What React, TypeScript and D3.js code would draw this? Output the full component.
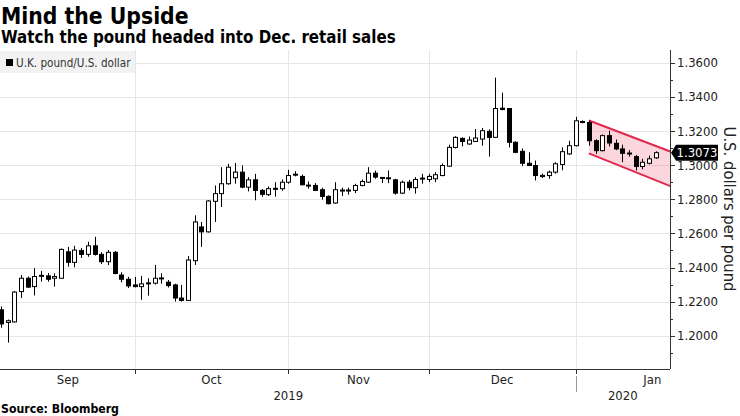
import React from 'react';
import * as d3 from 'd3';

// daily GBP/USD candles (Sep 2019 - mid Jan 2020)
const opens = [
  1.2152, 1.2078, 1.2081, 1.2259, 1.2337, 1.2288, 1.2350, 1.2351, 1.2337, 1.2337,
  1.2492, 1.2430, 1.2500, 1.2477, 1.2527, 1.2477, 1.2434, 1.2489, 1.2356, 1.2331,
  1.2298, 1.2288, 1.2306, 1.2308, 1.2335, 1.2314, 1.2298, 1.2221, 1.2207, 1.2440,
  1.2638, 1.2609, 1.2788, 1.2833, 1.2891, 1.2926, 1.2959, 1.2871, 1.2914, 1.2852,
  1.2827, 1.2860, 1.2862, 1.2900, 1.2943, 1.2934, 1.2879, 1.2881, 1.2856, 1.2817,
  1.2778, 1.2850, 1.2850, 1.2852, 1.2881, 1.2900, 1.2953, 1.2928, 1.2922, 1.2914,
  1.2836, 1.2900, 1.2868, 1.2920, 1.2916, 1.2920, 1.2939, 1.2994, 1.3104, 1.3157,
  1.3124, 1.3139, 1.3153, 1.3198, 1.3163, 1.3334, 1.3332, 1.3134, 1.3081, 1.3011,
  1.2998, 1.2933, 1.2939, 1.2959, 1.3004, 1.3066, 1.3114, 1.3252, 1.3250, 1.3143,
  1.3085, 1.3173, 1.3128, 1.3095, 1.3067, 1.3050, 1.2992, 1.3011, 1.3043,
];
const highs = [
  1.2172, 1.2095, 1.2262, 1.2356, 1.2347, 1.2396, 1.2380, 1.2368, 1.2366, 1.2512,
  1.2521, 1.2527, 1.2514, 1.2551, 1.2580, 1.2490, 1.2502, 1.2497, 1.2372, 1.2345,
  1.2345, 1.2351, 1.2337, 1.2415, 1.2366, 1.2327, 1.2305, 1.2298, 1.2467, 1.2706,
  1.2667, 1.2795, 1.2881, 1.2988, 1.3008, 1.3013, 1.2998, 1.2930, 1.2949, 1.2860,
  1.2875, 1.2900, 1.2916, 1.2973, 1.2965, 1.2945, 1.2904, 1.2895, 1.2868, 1.2823,
  1.2900, 1.2868, 1.2868, 1.2891, 1.2916, 1.2988, 1.2968, 1.2928, 1.2969, 1.2920,
  1.2910, 1.2914, 1.2930, 1.2949, 1.2949, 1.2959, 1.3010, 1.3120, 1.3170, 1.3163,
  1.3168, 1.3212, 1.3218, 1.3210, 1.3513, 1.3425, 1.3334, 1.3140, 1.3098, 1.3075,
  1.3027, 1.2950, 1.2968, 1.3017, 1.3104, 1.3143, 1.3283, 1.3262, 1.3262, 1.3152,
  1.3180, 1.3202, 1.3150, 1.3120, 1.3088, 1.3060, 1.3037, 1.3056, 1.3081,
];
const lows = [
  1.2047, 1.1960, 1.2078, 1.2221, 1.2280, 1.2236, 1.2317, 1.2317, 1.2288, 1.2335,
  1.2405, 1.2401, 1.2456, 1.2463, 1.2470, 1.2420, 1.2414, 1.2360, 1.2313, 1.2280,
  1.2283, 1.2211, 1.2235, 1.2300, 1.2305, 1.2283, 1.2200, 1.2200, 1.2205, 1.2415,
  1.2521, 1.2605, 1.2667, 1.2755, 1.2885, 1.2891, 1.2865, 1.2846, 1.2794, 1.2815,
  1.2820, 1.2815, 1.2850, 1.2891, 1.2934, 1.2881, 1.2862, 1.2848, 1.2798, 1.2770,
  1.2774, 1.2819, 1.2827, 1.2836, 1.2875, 1.2895, 1.2920, 1.2895, 1.2895, 1.2827,
  1.2830, 1.2852, 1.2833, 1.2891, 1.2900, 1.2900, 1.2935, 1.2990, 1.3098, 1.3110,
  1.3120, 1.3135, 1.3114, 1.3050, 1.3160, 1.3322, 1.3104, 1.3070, 1.2994, 1.2994,
  1.2910, 1.2925, 1.2920, 1.2950, 1.2970, 1.3060, 1.3110, 1.3245, 1.3114, 1.3066,
  1.3080, 1.3110, 1.3088, 1.3017, 1.3050, 1.2969, 1.2975, 1.3004, 1.3037,
];
const closes = [
  1.2069, 1.2088, 1.2256, 1.2337, 1.2285, 1.2347, 1.2354, 1.2331, 1.2347, 1.2506,
  1.2430, 1.2502, 1.2477, 1.2527, 1.2477, 1.2434, 1.2489, 1.2365, 1.2331, 1.2292,
  1.2288, 1.2304, 1.2310, 1.2337, 1.2339, 1.2294, 1.2221, 1.2207, 1.2444, 1.2667,
  1.2609, 1.2790, 1.2833, 1.2891, 1.2988, 1.2959, 1.2871, 1.2914, 1.2852, 1.2829,
  1.2862, 1.2864, 1.2900, 1.2939, 1.2947, 1.2885, 1.2883, 1.2852, 1.2817, 1.2774,
  1.2856, 1.2854, 1.2854, 1.2881, 1.2904, 1.2953, 1.2930, 1.2924, 1.2926, 1.2836,
  1.2900, 1.2868, 1.2916, 1.2924, 1.2934, 1.2944, 1.2998, 1.3104, 1.3163, 1.3139,
  1.3147, 1.3159, 1.3202, 1.3163, 1.3332, 1.3326, 1.3134, 1.3075, 1.3011, 1.2998,
  1.2939, 1.2940, 1.2959, 1.3008, 1.3079, 1.3114, 1.3260, 1.3256, 1.3143, 1.3085,
  1.3173, 1.3130, 1.3095, 1.3069, 1.3071, 1.2992, 1.3017, 1.3037, 1.3073,
];

const months = ['Sep', 'Oct', 'Nov', 'Dec', 'Jan'];
const monthStart = [0, 20, 43, 64, 86];
const monthEnd = [20, 43, 64, 86, 109];
const years = ['2019', '2020'];
const yearStart = [0, 86];
const yearEnd = [86, 109];

const yTicks = [1.2, 1.22, 1.24, 1.26, 1.28, 1.3, 1.32, 1.34, 1.36];
const yMinor = [1.19, 1.21, 1.23, 1.25, 1.27, 1.29, 1.31, 1.33, 1.35];

// downward channel drawn over the last weeks
const channelIdx = [88, 100.2];
const channelUpper = [1.3262, 1.308];
const channelLower = [1.3069, 1.2877];

const lastPrice = 1.3073;

const W = 740;
const H = 416;
const left = 0;
const right = 670;
const top = 50;
const bottom = 369;
const font = '"DejaVu Sans Condensed", "DejaVu Sans", sans-serif';

export default function App() {
  const x = d3.scaleLinear().domain([0, closes.length - 1]).range([1, 655.7]);
  const y = d3.scaleLinear().domain([1.1805, 1.3675]).range([bottom, top]);
  const fmt = d3.format('.4f');

  const upperLine = channelIdx.map((d, i) => [x(d), y(channelUpper[i])]);
  const lowerLine = channelIdx.map((d, i) => [x(d), y(channelLower[i])]);
  const band = [...upperLine, ...lowerLine.slice().reverse()];
  const line = d3.line();

  const ly = y(lastPrice);

  return (
    <div style={{ position: 'absolute', left: 0, top: 0 }}>
      <svg width={W} height={H} style={{ display: 'block', fontFamily: font }}>
        <defs>
          <clipPath id="plot">
            <rect x={left} y={top} width={right - left} height={bottom - top} />
          </clipPath>
        </defs>

        <text x={1} y={24} fontSize={22.7} fontWeight="bold" fill="#000">Mind the Upside</text>
        <text x={1} y={42.5} fontSize={16.8} fontWeight="bold" fill="#000">
          Watch the pound headed into Dec. retail sales
        </text>

        {/* grid */}
        {yTicks.map(t => (
          <line key={t} x1={left} x2={right} y1={Math.round(y(t)) + 0.5} y2={Math.round(y(t)) + 0.5}
            stroke="#e6e6e6" />
        ))}
        {monthStart.slice(1).map(s => (
          <line key={s} x1={Math.round(x(s)) + 0.5} x2={Math.round(x(s)) + 0.5} y1={top} y2={bottom}
            stroke="#e6e6e6" />
        ))}

        {/* legend */}
        <rect x={0} y={51} width={135} height={22} fill="#f2f2f2" />
        <rect x={6} y={59} width={7} height={7} fill="#000" />
        <text x={16} y={67} fontSize={11.6} fill="#333">U.K. pound/U.S. dollar</text>

        {/* channel */}
        <g clipPath="url(#plot)">
          <path d={line(band as any) + 'Z'} fill="rgba(236, 70, 100, 0.22)" />
          <path d={line(upperLine as any)!} stroke="#e4274d" strokeWidth={2} fill="none" />
          <path d={line(lowerLine as any)!} stroke="#e4274d" strokeWidth={2} fill="none" />
        </g>

        {/* candles */}
        <g clipPath="url(#plot)">
          {closes.map((c, i) => {
            const o = opens[i];
            const cx = Math.round(x(i)) + 0.5;
            const yTop = y(Math.max(o, c));
            const yBot = y(Math.min(o, c));
            const up = c >= o;
            const h = Math.max(yBot - yTop, 1);
            return (
              <g key={i}>
                <line x1={cx} x2={cx} y1={y(highs[i])} y2={y(lows[i])} stroke="#000" />
                <rect x={cx - 2} y={yTop} width={4} height={h}
                  fill={up ? '#fff' : '#000'} stroke="#000" strokeWidth={1} />
              </g>
            );
          })}
        </g>

        {/* y axis on the right */}
        <line x1={right + 0.5} x2={right + 0.5} y1={top} y2={bottom} stroke="#333" />
        {yTicks.map(t => (
          <g key={t}>
            <line x1={right} x2={right + 5} y1={Math.round(y(t)) + 0.5} y2={Math.round(y(t)) + 0.5}
              stroke="#333" />
            <text x={right + 7} y={y(t) + 4.5} fontSize={13} fill="#222">{fmt(t)}</text>
          </g>
        ))}
        {yMinor.map(t => (
          <line key={t} x1={right} x2={right + 3} y1={Math.round(y(t)) + 0.5} y2={Math.round(y(t)) + 0.5}
            stroke="#333" />
        ))}
        <text transform="translate(723.5,209) rotate(90)" textAnchor="middle"
          fontSize={16.5} fill="#222">U.S. dollars per pound</text>

        {/* last price tag */}
        <path d={`M${right + 1},${ly} L${right + 6},${ly - 8} H${right + 48} V${ly + 8} H${right + 6} Z`}
          fill="#000" />
        <text x={right + 27} y={ly + 4.5} fontSize={13} fill="#fff" textAnchor="middle">{fmt(lastPrice)}</text>

        {/* x axis */}
        <line x1={left} x2={right} y1={bottom + 0.5} y2={bottom + 0.5} stroke="#333" />
        {monthStart.slice(1).map(s => (
          <line key={s} x1={Math.round(x(s)) + 0.5} x2={Math.round(x(s)) + 0.5} y1={bottom} y2={bottom + 5}
            stroke="#333" />
        ))}
        {months.map((m, i) => (
          <text key={m} x={(x(monthStart[i]) + x(monthEnd[i])) / 2} y={384} fontSize={13}
            textAnchor="middle" fill="#222">{m}</text>
        ))}
        {yearStart.slice(1).map(s => (
          <line key={s} x1={Math.round(x(s)) + 0.5} x2={Math.round(x(s)) + 0.5} y1={376} y2={392}
            stroke="#999" />
        ))}
        {years.map((yr, i) => (
          <text key={yr} x={(x(yearStart[i]) + Math.min(x(yearEnd[i]), right)) / 2} y={400} fontSize={13}
            textAnchor="middle" fill="#222">{yr}</text>
        ))}

        <text x={1} y={413} fontSize={12.2} fontWeight="bold" fill="#000">Source: Bloomberg</text>
      </svg>
    </div>
  );
}
